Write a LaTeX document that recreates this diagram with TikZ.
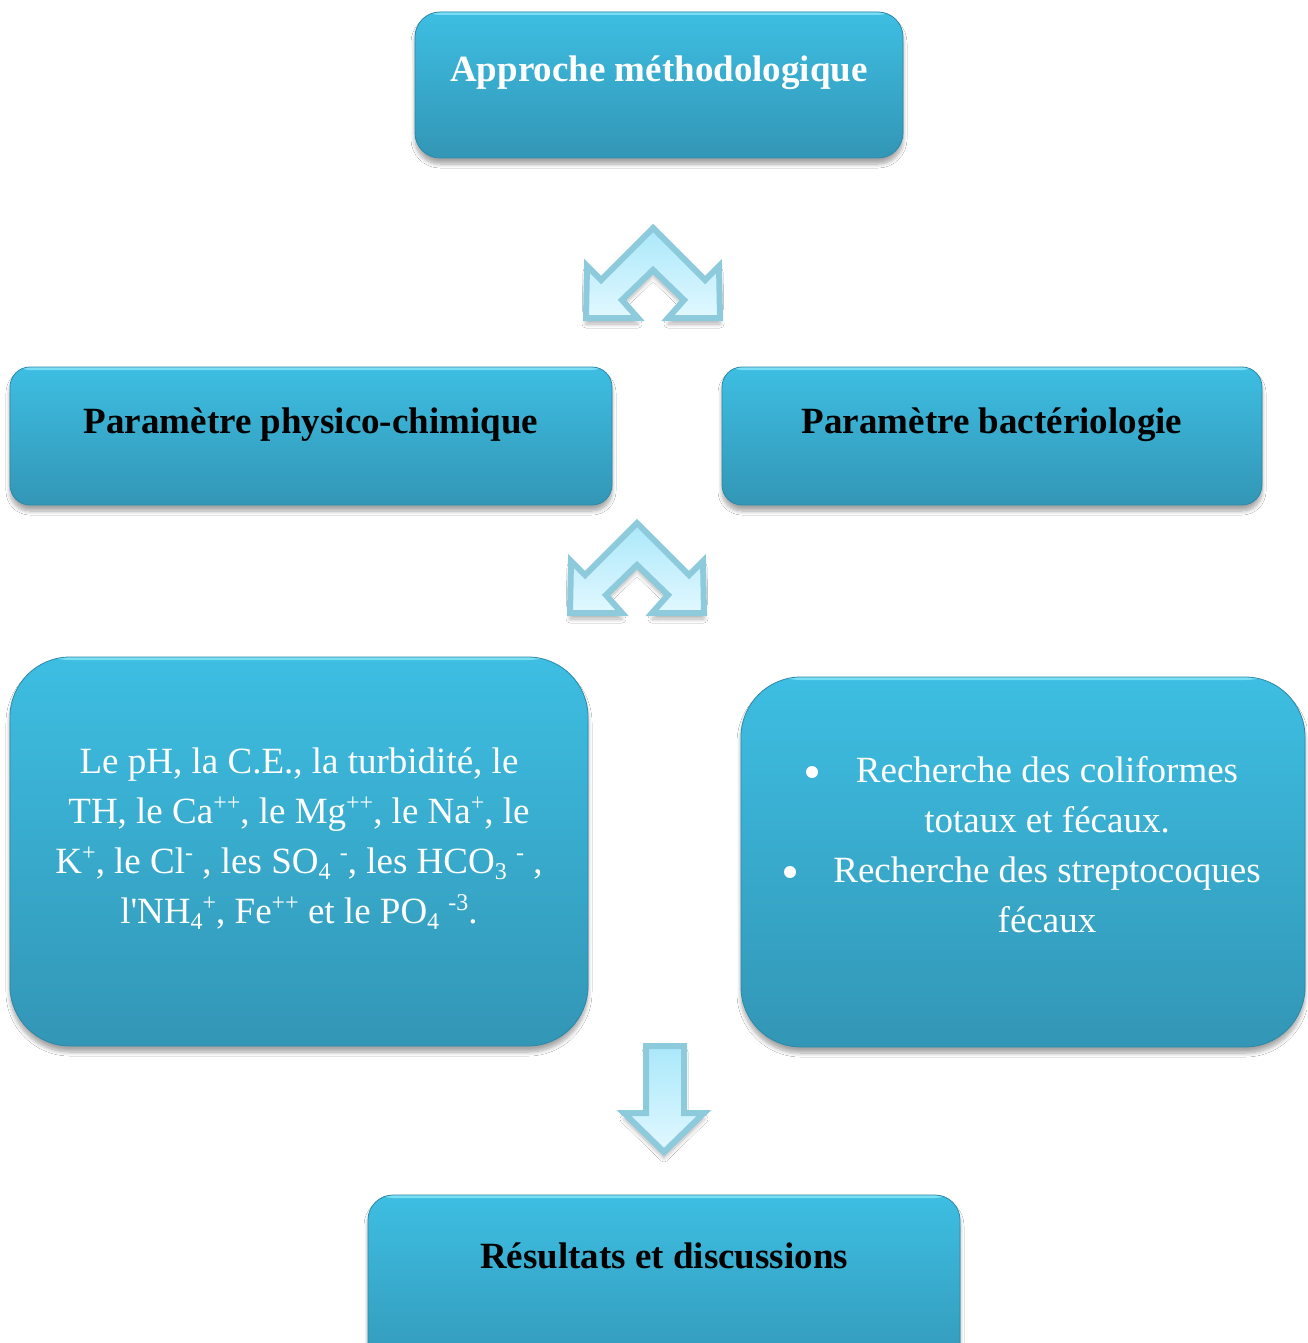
\documentclass[tikz,border=0pt]{standalone}
\usepackage{fontspec}
\setmainfont{Liberation Serif}
\usetikzlibrary{shadows,shadows.blur}
\definecolor{boxtop}{HTML}{3DBEE2}
\definecolor{boxbot}{HTML}{3396B6}
\definecolor{boxedge}{HTML}{2C88A8}
\definecolor{hilite}{HTML}{8AE6FA}
\definecolor{arrfillA}{HTML}{E2F8FF}
\definecolor{arrfillB}{HTML}{AAE8FA}
\definecolor{arredge}{HTML}{8DCADC}
\tikzset{
  box/.style={draw=boxedge, line width=0.8pt, top color=boxtop, bottom color=boxbot,
    rounded corners=#1, inner sep=0pt,
    blur shadow={shadow xshift=0pt, shadow yshift=-6pt, shadow opacity=35, shadow blur steps=8, shadow blur radius=4pt},
    path picture={\fill[hilite,opacity=0.8] (path picture bounding box.north west)
      rectangle ([yshift=-3pt]path picture bounding box.north east);}},
  box/.default=25pt,
  titlew/.style={text=white, font=\fontsize{37}{44}\selectfont\bfseries, anchor=base, inner sep=0pt},
  titlek/.style={text=black, font=\fontsize{37}{44}\selectfont\bfseries, anchor=base, inner sep=0pt},
  bodytext/.style={text=white, font=\fontsize{37}{50}\selectfont, align=center, inner sep=0pt},
  bulletmark/.style={circle, fill=white, inner sep=0pt, minimum size=12pt},
  blockarrow/.style={draw=arredge, line width=6pt, line join=miter, top color=arrfillB, bottom color=arrfillA,
    blur shadow={shadow xshift=0pt, shadow yshift=-6pt, shadow opacity=30, shadow blur steps=8, shadow blur radius=4pt}}
}
\newcommand{\sups}[1]{\raisebox{0.8ex}{\fontsize{24}{24}\selectfont #1}}
\newcommand{\subs}[1]{\raisebox{-0.35ex}{\fontsize{24}{24}\selectfont #1}}
\begin{document}
\begin{tikzpicture}[x=1pt,y=-1pt]
\useasboundingbox (0,0) rectangle (1307,1343);
\fill[white] (0,0) rectangle (1307,1343);

% boxes
\node[box, minimum width=488pt, minimum height=146pt] (app) at (659,85) {};
\node[box=20pt, minimum width=602pt, minimum height=138pt] (phys) at (311,436) {};
\node[box=20pt, minimum width=540pt, minimum height=138pt] (bact) at (992,436) {};
\node[box=60pt, minimum width=578pt, minimum height=389pt] (physlist) at (299,851.5) {};
\node[box=60pt, minimum width=564pt, minimum height=370pt] (bactlist) at (1023,862) {};
\node[box, minimum width=592pt, minimum height=190pt] (res) at (664,1290) {};

% texts
\node[titlew] (appt) at (659,82) {Approche méthodologique};
\node[titlek] (physt) at (311,433) {Paramètre physico-chimique};
\node[titlek] (bactt) at (992,433) {Paramètre bactériologie};
\node[titlek] (rest) at (664,1268) {Résultats et discussions};

\node[bodytext] (physl) at (299,839) {Le pH, la C.E., la turbidité, le\\
TH, le Ca\sups{++}, le Mg\sups{++}, le Na\sups{+}, le\\
K\sups{+}, le Cl\sups{-} , les SO\subs{4} \sups{-}, les HCO\subs{3} \sups{-} ,\\
l\textquotesingle NH\subs{4}\sups{+}, Fe\sups{++} et le PO\subs{4} \sups{-3}.};

\node[bodytext] (bactl) at (1047,845) {Recherche des coliformes\\
totaux et fécaux.\\
Recherche des streptocoques\\
fécaux};
\node[bulletmark] (bul1) at (812,772) {};
\node[bulletmark] (bul2) at (790,872) {};

% block arrows
\path[blockarrow, shift={(653,228)}] (0,0) -- (52,52) -- (66,38) -- (67,90) -- (15,90) -- (31,72) -- (0,42)
  -- (-31,72) -- (-15,90) -- (-67,90) -- (-66,38) -- (-52,52) -- cycle;
\path[blockarrow, shift={(637,523)}] (0,0) -- (52,52) -- (66,38) -- (67,90) -- (15,90) -- (31,72) -- (0,42)
  -- (-31,72) -- (-15,90) -- (-67,90) -- (-66,38) -- (-52,52) -- cycle;
\path[blockarrow] (646,1046) -- (684,1046) -- (684,1113) -- (704,1113) -- (664,1152) -- (624,1113) -- (646,1113) -- cycle;
\end{tikzpicture}
\end{document}
